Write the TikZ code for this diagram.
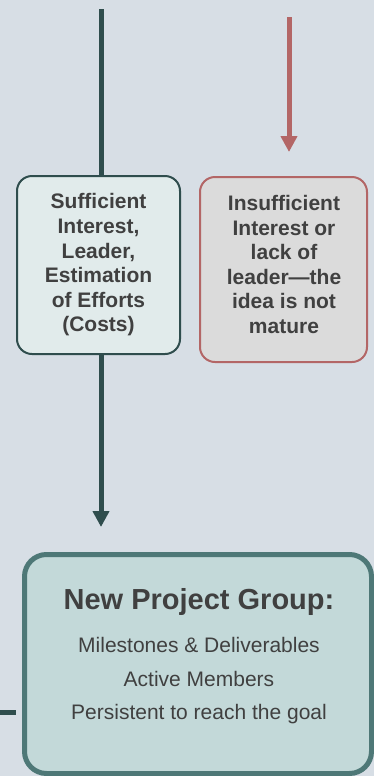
\documentclass[tikz,border=0pt]{standalone}
\usepackage{fontspec}
\setmainfont{Liberation Sans}
\usetikzlibrary{arrows.meta}
\definecolor{bgc}{HTML}{D7DEE5}
\definecolor{darkc}{HTML}{2F4D4D}
\definecolor{greenfill}{HTML}{E1EBEB}
\definecolor{redc}{HTML}{B36666}
\definecolor{redfill}{HTML}{DBDBDB}
\definecolor{bigfill}{HTML}{C3D9D9}
\definecolor{bigline}{HTML}{4E7877}
\definecolor{txt}{HTML}{404040}
\tikzset{
  smallbox/.style={draw, line width=1.5pt, rounded corners=11.25pt, inner sep=0pt},
  boldtxt/.style={text=txt, align=center, inner sep=0pt, font=\bfseries\fontsize{15.75}{18.45}\selectfont},
  darkline/.style={draw=darkc, line width=3.75pt},
  redline/.style={draw=redc, line width=3.75pt},
  tip/.style={-{Triangle[length=12pt,width=12pt]}},
}
\begin{document}
\begin{tikzpicture}[x=0.75pt,y=-0.75pt]
\fill[bgc] (0,0) rectangle (374,776);
\useasboundingbox (0,0) rectangle (374,776);

\node[smallbox, draw=darkc, fill=greenfill, minimum width=122.25pt, minimum height=133.5pt, boldtxt] (green) at (98.5,265)
  {Sufficient\\Interest,\\Leader,\\Estimation\\of Efforts\\(Costs)};
\node[smallbox, draw=redc, fill=redfill, minimum width=125.25pt, minimum height=138.75pt] (red) at (283.5,269.5) {};
\node[boldtxt] (redtext) at (284,264.5)
  {Insufficient\\Interest or\\lack of\\leader—the\\idea is not\\mature};

\node[draw=bigline, fill=bigfill, line width=3.75pt, rounded corners=16.5pt, minimum width=260.25pt, minimum height=164.25pt, inner sep=0pt] (big) at (198,664) {};
\node[anchor=base, text=txt, inner sep=0pt, font=\bfseries\fontsize{21.75}{26}\selectfont] (bigtitle) at (199,609.5) {New Project Group:};
\node[text=txt, align=center, inner sep=0pt, font=\fontsize{15.75}{25.1}\selectfont] (bigbody) at (199,681)
  {Milestones \& Deliverables\\Active Members\\Persistent to reach the goal};

\coordinate (top) at (101,9);
\coordinate (redtop) at (289,17);
\coordinate (stubL) at (0,712);

\draw[darkline] (top) -- (top |- green.north);
\draw[darkline, tip, shorten >=18.75pt] (green.south -| top) -- (big.north -| top);
\draw[redline, tip, shorten >=18pt] (redtop) -- (redtop |- red.north);
\draw[darkline, shorten >=4.5pt] (stubL) -- (big.west |- stubL);
\end{tikzpicture}
\end{document}
